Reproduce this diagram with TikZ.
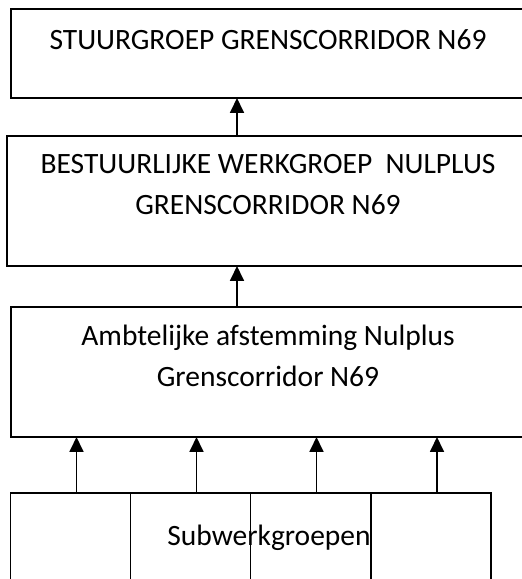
\documentclass[tikz,border=0pt]{standalone}
\usepackage{fontspec}
\setmainfont{Carlito}
\usetikzlibrary{arrows.meta}

\begin{document}
\begin{tikzpicture}[->,>={Triangle[width=14pt,length=15pt]},x=1pt,y=1pt,line width=1.8pt]
\tikzset{box/.style={draw=black,rectangle,inner sep=0,outer sep=0,minimum width=#1},
  lbl/.style={align=center,inner sep=0,font=\fontsize{29.5}{41}\selectfont}}

\useasboundingbox (0,0) rectangle (522,579);
\clip (0,0) rectangle (522,579);

% the three levels
\node[box=514pt,minimum height=89pt] (stuur) at (268,525.5) {};
\node[box=522pt,minimum height=130pt] (bestuur) at (268,378) {};
\node[box=514pt,minimum height=130pt] (amb) at (268,207) {};

% base = baseline of the last line
\node[lbl,anchor=base] (tstuur) at (268,529) {STUURGROEP GRENSCORRIDOR N69};
\node[lbl,anchor=base] (tbestuur) at (268,364) {BESTUURLIJKE WERKGROEP\ \ NULPLUS\\GRENSCORRIDOR N69};
\node[lbl,anchor=base] (tamb) at (268,192) {Ambtelijke afstemming Nulplus\\Grenscorridor N69};

% subwerkgroepen
\node[box=120pt,minimum height=110pt] (sub1) at (70.5,31) {};
\node[box=120pt,minimum height=110pt] (sub2) at (190.5,31) {};
\node[box=120pt,minimum height=110pt] (sub3) at (310.5,31) {};
\node[box=120pt,minimum height=110pt] (sub4) at (431,31) {};
\node[lbl,anchor=base] (tsub) at (269,34) {Subwerkgroepen};

\draw ([xshift=-31pt]bestuur.north) -- ([xshift=-31pt]stuur.south);
\draw ([xshift=-31pt]amb.north) -- ([xshift=-31pt]bestuur.south);

\foreach \s in {sub1,sub2,sub3,sub4}
  \draw ([xshift=6pt]\s.north) -- ([xshift=6pt]\s.north |- amb.south);

\end{tikzpicture}
\end{document}
